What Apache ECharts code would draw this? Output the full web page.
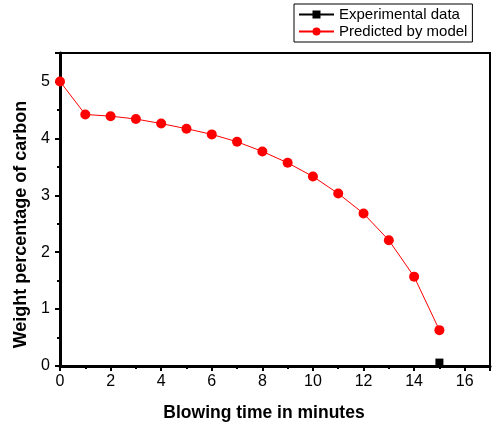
<!DOCTYPE html>
<html><head><meta charset="utf-8">
<script src="https://cdn.jsdelivr.net/npm/echarts@6/dist/echarts.min.js"></script>
<style>html,body{margin:0;padding:0;background:#fff}#c{width:494px;height:435px}</style>
</head><body><div id="c"></div>
<script>
const predictedX = [0,1,2,3,4,5,6,7,8,9,10,11,12,13,14,15];
const predictedY = [5.0,4.42,4.39,4.34,4.26,4.17,4.07,3.94,3.77,3.57,3.33,3.03,2.68,2.21,1.57,0.63];
const experimentalX = [15];
const experimentalY = [0.06];
const seriesNames = ['Experimental data','Predicted by model'];
const xTitle = 'Blowing time in minutes';
const yTitle = 'Weight percentage of carbon';

const chart = echarts.init(document.getElementById('c'), null, {renderer:'canvas'});
const font = 'Liberation Sans, Arial, sans-serif';
chart.setOption({
  animation:false,
  backgroundColor:'#fff',
  grid:{left:60,top:53,right:4,bottom:69,show:true,borderColor:'#000',borderWidth:2,backgroundColor:'transparent'},
  legend:{
    orient:'vertical', left:294, top:4, width:177,
    borderColor:'#000', borderWidth:1, borderRadius:0,
    padding:[3,5,3,4], itemGap:2, itemWidth:35, itemHeight:10,
    textStyle:{fontFamily:font,fontSize:15,color:'#000'},
    data:seriesNames
  },
  xAxis:{
    type:'value', min:0, max:17, interval:2,
    name:xTitle, nameLocation:'middle', nameGap:38,
    nameTextStyle:{fontFamily:font,fontSize:17.5,fontWeight:'bold',color:'#000',padding:[0,22,0,0]},
    axisLine:{show:true,onZero:false,lineStyle:{color:'#000',width:3}},
    axisTick:{show:true,inside:false,length:5,lineStyle:{color:'#000',width:2}},
    minorTick:{show:true,splitNumber:2,length:3,lineStyle:{color:'#000',width:2}},
    splitLine:{show:false},
    axisLabel:{fontFamily:font,fontSize:16,color:'#000',margin:8,
      formatter:v=> (v%2===0 && v<=16) ? String(v) : ''}
  },
  yAxis:{
    type:'value', min:0, max:5.5, interval:1,
    name:yTitle, nameLocation:'middle', nameGap:24,
    nameTextStyle:{fontFamily:font,fontSize:18,fontWeight:'bold',color:'#000',padding:[6,30,0,0]},
    axisLine:{show:true,onZero:false,lineStyle:{color:'#000',width:3}},
    axisTick:{show:true,inside:false,length:5,lineStyle:{color:'#000',width:2}},
    minorTick:{show:true,splitNumber:2,length:3,lineStyle:{color:'#000',width:2}},
    splitLine:{show:false},
    axisLabel:{fontFamily:font,fontSize:16,color:'#000',margin:10,
      formatter:v=> Number.isInteger(v) ? String(v) : ''}
  },
  series:[
    {name:seriesNames[0],type:'line',symbol:'rect',symbolSize:8,
     color:'#000',lineStyle:{color:'#000',width:1},itemStyle:{color:'#000'},
     data:experimentalX.map((x,i)=>[x,experimentalY[i]]),z:3},
    {name:seriesNames[1],type:'line',symbol:'circle',symbolSize:10,
     color:'#ff0000',lineStyle:{color:'#ff0000',width:1},itemStyle:{color:'#ff0000'},
     data:predictedX.map((x,i)=>[x,predictedY[i]]),z:4}
  ]
});
</script></body></html>
